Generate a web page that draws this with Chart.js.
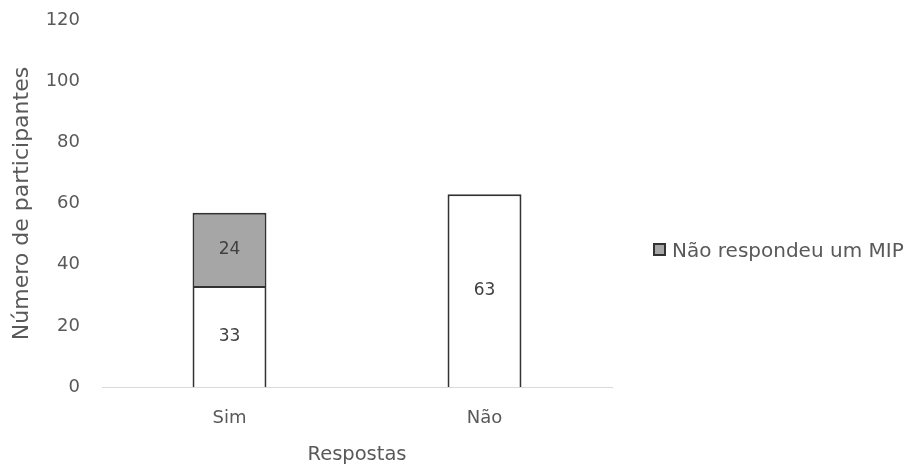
<!DOCTYPE html>
<html>
<head>
<meta charset="utf-8">
<script src="https://cdn.jsdelivr.net/npm/chart.js@4"></script>
<style>
  html, body { margin: 0; padding: 0; background: #ffffff; }
  #wrap { width: 909px; height: 468px; position: relative; }
</style>
</head>
<body>
<div id="wrap"><canvas id="c" width="909" height="468"></canvas></div>
<script>
// Respostas por categoria
const categories = ["Sim", "Não"];
const respondeu = [33, 63];          // respondeu um MIP (branco)
const naoRespondeu = [24, null];     // não respondeu um MIP (cinza)
const yTicks = [0, 20, 40, 60, 80, 100, 120];

const labelFont = "'DejaVu Sans', 'Open Sans', sans-serif";
const textGray = '#595959';

// Rótulos de valor no centro de cada segmento
const valueLabels = {
  id: 'valueLabels',
  afterDatasetsDraw(chart) {
    const ctx = chart.ctx;
    ctx.save();
    ctx.font = "17px " + labelFont;
    ctx.fillStyle = '#404040';
    ctx.textAlign = 'center';
    ctx.textBaseline = 'middle';
    chart.data.datasets.forEach((ds, di) => {
      const meta = chart.getDatasetMeta(di);
      meta.data.forEach((bar, i) => {
        const v = ds.data[i];
        if (v == null) return;
        const yMid = (bar.y + bar.base) / 2;
        ctx.fillText(String(v), bar.x, yMid);
      });
    });
    ctx.restore();
  }
};

// Legenda apenas para a série cinza, à direita do gráfico
const sideLegend = {
  id: 'sideLegend',
  afterDraw(chart) {
    const ctx = chart.ctx;
    const ds = chart.data.datasets[1];
    const x = 654, y = 250;
    ctx.save();
    ctx.fillStyle = ds.backgroundColor;
    ctx.strokeStyle = '#333333';
    ctx.lineWidth = 2;
    ctx.fillRect(x, y - 6, 11, 11);
    ctx.strokeRect(x, y - 6, 11, 11);
    ctx.font = "20px " + labelFont;
    ctx.fillStyle = textGray;
    ctx.textAlign = 'left';
    ctx.textBaseline = 'alphabetic';
    ctx.fillText(ds.label, x + 18, 257);
    ctx.restore();
  }
};

new Chart(document.getElementById('c'), {
  type: 'bar',
  data: {
    labels: categories,
    datasets: [
      {
        label: 'Respondeu um MIP',
        data: respondeu,
        backgroundColor: '#ffffff',
        borderColor: '#333333',
        borderWidth: 2,
        borderSkipped: 'bottom',
        barPercentage: 0.29,
        categoryPercentage: 1
      },
      {
        label: 'Não respondeu um MIP',
        data: naoRespondeu,
        backgroundColor: '#a6a6a6',
        borderColor: '#333333',
        borderWidth: 2,
        borderSkipped: 'bottom',
        barPercentage: 0.29,
        categoryPercentage: 1
      }
    ]
  },
  options: {
    responsive: false,
    animation: false,
    layout: { padding: { top: 20, right: 297, left: 0, bottom: 0 } },
    plugins: {
      legend: { display: false },
      tooltip: { enabled: false }
    },
    scales: {
      x: {
        stacked: true,
        grid: { display: false, drawTicks: false },
        border: { display: true, color: '#d9d9d9', width: 1 },
        ticks: { color: textGray, font: { family: labelFont, size: 18 }, padding: 21 },
        title: {
          display: true,
          text: 'Respostas',
          color: textGray,
          font: { family: labelFont, size: 19.5 },
          padding: { top: 4, bottom: 1 }
        },
        afterFit(scale) { scale.height = 81; }
      },
      y: {
        stacked: true,
        min: 0,
        max: 120,
        afterBuildTicks(scale) { scale.ticks = yTicks.map(v => ({ value: v })); },
        grid: { display: false, drawTicks: false },
        border: { display: false },
        ticks: { color: textGray, font: { family: labelFont, size: 18 }, padding: 22 },
        title: {
          display: true,
          text: 'Número de participantes',
          color: textGray,
          font: { family: labelFont, size: 22 },
          padding: { top: 9, bottom: 4 }
        },
        afterFit(scale) {
          scale.width = 102;
          scale.paddingTop = 0;
          scale.paddingBottom = 0;
        }
      }
    }
  },
  plugins: [valueLabels, sideLegend]
});
</script>
</body>
</html>
